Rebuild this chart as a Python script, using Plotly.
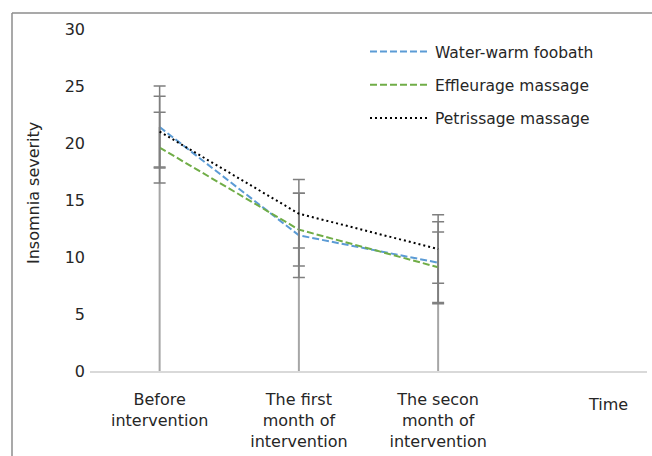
import plotly.graph_objects as go

categories = ["Before<br>intervention", "The first<br>month of<br>intervention",
              "The secon<br>month of<br>intervention", ""]
series_names = ["Water-warm foobath", "Effleurage massage", "Petrissage massage"]
water_warm = [21.4, 11.9, 9.5]
effleurage = [19.6, 12.4, 9.1]
petrissage = [21.0, 13.8, 10.7]
water_warm_err = [3.6, 3.7, 3.6]
effleurage_err = [3.1, 3.2, 3.1]
petrissage_err = [3.1, 3.0, 3.0]
y_ticks = [0, 5, 10, 15, 20, 25, 30]

colors = ["#5b9bd5", "#70ad47", "#000000"]
dashes = ["7px,3px", "7px,3px", "2px,3px"]

FONT = "DejaVu Sans"
W, H = 652, 456
L, R, T, B = 90, 5, 29, 85
pw, ph = W - L - R, H - T - B


def px(x):
    return (x - L) / pw


def py(y):
    return (H - B - y) / ph


xs = list(range(len(water_warm)))
fig = go.Figure()

# drop lines from highest value to axis
tops = [max(v) for v in zip(water_warm, effleurage, petrissage)]
for i, t in zip(xs, tops):
    fig.add_trace(go.Scatter(x=[i, i], y=[0, t], mode="lines",
                             line=dict(color="#a6a6a6", width=2),
                             showlegend=False, hoverinfo="skip"))

for k, (name, vals, err) in enumerate(zip(series_names,
                                          [water_warm, effleurage, petrissage],
                                          [water_warm_err, effleurage_err, petrissage_err])):
    fig.add_trace(go.Scatter(
        x=xs, y=vals, mode="lines", name=name, legendgroup=name,
        line=dict(color=colors[k], width=2, dash=dashes[k]),
        error_y=dict(type="data", array=err, visible=True, color="#7f7f7f",
                     thickness=1.5, width=6),
    ))

fig.update_layout(
    width=W, height=H,
    margin=dict(l=L, r=R, t=T, b=B),
    paper_bgcolor="white", plot_bgcolor="white",
    font=dict(family=FONT, size=16, color="#262626"),
    xaxis=dict(range=[-0.5, 3.5], tickvals=list(range(len(categories))),
               ticktext=categories, showgrid=False, zeroline=False,
               showline=True, linecolor="#d9d9d9", linewidth=1.5, ticks="",
               tickfont=dict(size=16), ticklabelstandoff=13),
    yaxis=dict(range=[0, 30], tickvals=y_ticks, showgrid=False, zeroline=False,
               showline=False, ticks="", tickfont=dict(size=16),
               ticklabelstandoff=4),
    legend=dict(x=px(365), y=py(35), xanchor="left", yanchor="top",
                bgcolor="rgba(0,0,0,0)", font=dict(size=15.5),
                itemwidth=60, tracegroupgap=10),
    showlegend=True,
)

fig.add_annotation(x=px(33), y=py(193), xref="paper", yref="paper",
                   xanchor="center", yanchor="middle",
                   text="Insomnia severity", textangle=-90, showarrow=False,
                   font=dict(size=16))
fig.add_annotation(x=px(608), y=py(404), xref="paper", yref="paper",
                   xanchor="center", yanchor="middle",
                   text="Time", showarrow=False, font=dict(size=16))

# outer frame
fig.add_shape(type="line", xref="paper", yref="paper",
              x0=px(12), x1=px(12), y0=py(13), y1=py(470),
              line=dict(color="#8c8c8c", width=1.5))
fig.add_shape(type="line", xref="paper", yref="paper",
              x0=px(12), x1=px(670), y0=py(13), y1=py(13),
              line=dict(color="#8c8c8c", width=1.5))

fig.write_html("out.html", config={"displayModeBar": False},
               post_script="document.body.style.margin='0';document.body.style.padding='0';")
